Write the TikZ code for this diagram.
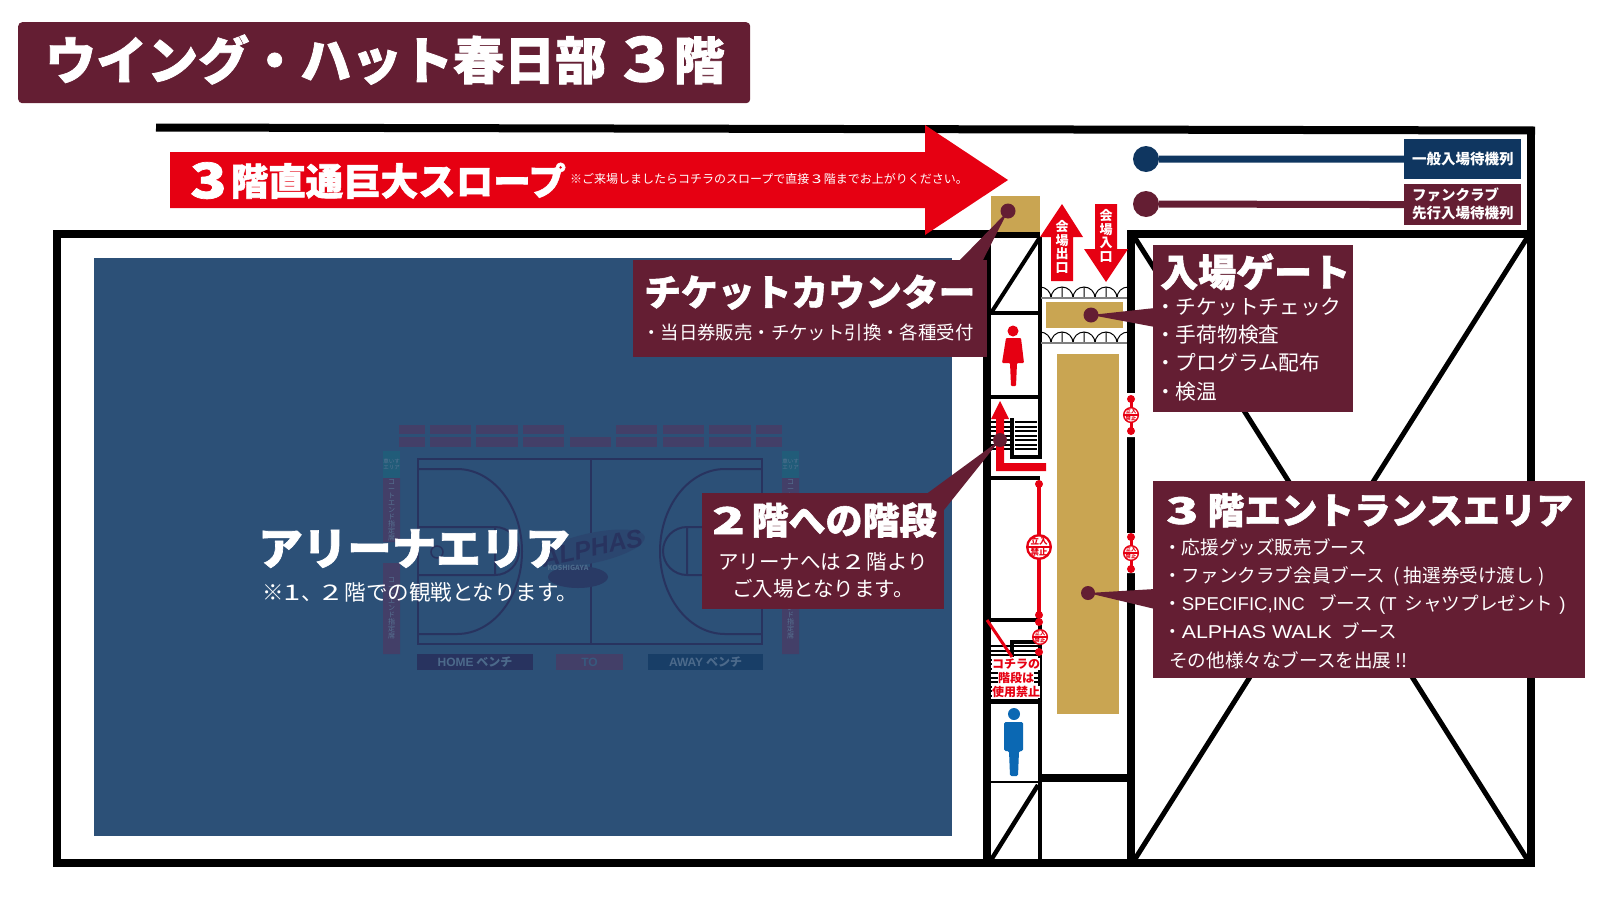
\documentclass[tikz,border=0pt]{standalone}
\usepackage{fontspec}
\setmainfont{Noto Sans CJK JP}
\newfontfamily\heavyjp[BoldFeatures={FakeBold=1.5}]{Noto Sans CJK JP}
\newfontfamily\latinfont{Liberation Sans}
\newcommand{\wdig}[1]{\scalebox{1.45}[1]{#1}}
\newcommand{\lat}[1]{{\latinfont #1}}
\definecolor{maroon}{HTML}{641E33}
\definecolor{navyq}{HTML}{0F3660}
\definecolor{rampred}{HTML}{E60012}
\definecolor{gold}{HTML}{C9A552}
\definecolor{arena}{HTML}{2C5077}
\definecolor{courtline}{HTML}{28335F}
\definecolor{seat}{HTML}{433F68}
\definecolor{manblue}{HTML}{0B68B3}
\tikzset{
sized/.style={font=\fontsize{#1}{#1}\selectfont,text height=.88*#1pt,text depth=.12*#1pt,inner sep=0pt,text=white},
heavy/.style={font=\heavyjp\bfseries\fontsize{#1}{#1}\selectfont,text height=.88*#1pt,text depth=.12*#1pt,inner sep=0pt,text=white},
boldsized/.style={font=\bfseries\fontsize{#1}{#1}\selectfont,text height=.88*#1pt,text depth=.12*#1pt,inner sep=0pt,text=white},
infobox/.style={fill=maroon,inner sep=0pt,anchor=north west},
dot/.style={circle,fill=maroon,inner sep=0pt,minimum size=#1},
wall/.style={line width=8pt},
inner/.style={line width=4pt},
tatetext/.style={align=center,inner sep=0pt,text=white,font=\bfseries\fontsize{13}{13.5}\selectfont},
sidetext/.style={align=center,inner sep=0pt,text=arena!80!white,font=\fontsize{#1}{#1}\selectfont},
warn/.style={font=\bfseries\fontsize{12}{12}\selectfont,text=rampred,fill=white,inner sep=.4pt},
nogo/.pic={
\fill[rampred] (0,0) circle (13);
\fill[white] (0,0) circle (10.5);
\fill[rampred] (-11,-1.3) rectangle (11,1.3);
\node[text=rampred,inner sep=0pt,transform shape,font=\bfseries\fontsize{8.5}{8.5}\selectfont] (-top) at (0,-5.5) {立入};
\node[text=rampred,inner sep=0pt,transform shape,font=\bfseries\fontsize{8.5}{8.5}\selectfont] (-bot) at (0,5.5) {禁止};
},
}
\begin{document}
\begin{tikzpicture}[x=1pt,y=-1pt]
\useasboundingbox (0,0) rectangle (1600,900);

\node[infobox,rounded corners=4pt,minimum width=732pt,minimum height=81pt] (titlebox) at (18,22) {};
\node[heavy=51,anchor=west] (title) at (45,60) {ウイング・ハット春日部\hspace{.32em}\raisebox{-2pt}{\scalebox{1.45}[1.2]{3}}\hspace{.12em}階};

\draw[wall] (156,127.5) -- (1535,130.5);
\draw[wall] (1040,234) -- (53,234) -- (57,234) -- (57,863) -- (1531,863) -- (1531,130);
\draw[wall] (1127,234) -- (1531,234);
\draw[wall] (1131,234) -- (1131,393) (1131,437) -- (1131,533) (1131,573) -- (1131,863);
\draw[wall] (987,234) -- (987,863);
\draw[wall] (1040,778) -- (1131,778);
\draw[line width=5pt] (1135,238) -- (1527,859) (1527,238) -- (1135,859);

\draw[inner] (1040,237) -- (1040,457) -- (1012,457) -- (1012,418);
\draw[inner] (991,313) -- (1040,313) (991,396.5) -- (1040,396.5) (991,478) -- (1040,478);
\draw[inner] (991,313) -- (1040,237);
\foreach \y in {422,426.5,...,453} {
\draw[line width=2pt] (991,\y) -- (1010,\y) (1015,\y) -- (1037,\y);
}
\draw[inner] (991,620) -- (1040,620) (991,702) -- (1040,702);
\draw[inner] (1012,657) -- (1012,642) -- (1040,642);
\foreach \y in {646,650.5,...,700} {
\draw[line width=2pt] (991,\y) -- (1038,\y);
}
\draw[inner] (1040,620) -- (1040,860);
\draw[line width=2pt] (991,782) -- (1040,782);
\draw[line width=4.5pt] (1038,785) -- (991,860);

\fill[arena] (94,258) rectangle (952,836);
\foreach \a/\b in {399/425,430/471,476/518,523/564,616/657,663/704,709/751,756/782} {
\fill[seat] (\a,425) rectangle (\b,434);
\fill[seat] (\a,437) rectangle (\b,447);
}
\fill[seat] (570,437) rectangle (611,447);
\foreach \a/\b in {383/400,782/799} {
\fill[teal!25!arena] (\a,451) rectangle (\b,478);
\fill[seat] (\a,478) rectangle (\b,542) (\a,563) rectangle (\b,654);
}
\node[sidetext=5.5] (wheelL) at (391.5,464.5) {車いす\\エリア};
\node[sidetext=5.5] (wheelR) at (790.5,464.5) {車いす\\エリア};
\node[sidetext=7] (endLa) at (391.5,510) {コ\\ー\\ト\\エ\\ン\\ド\\指\\定\\席};
\node[sidetext=7] (endLb) at (391.5,608) {コ\\ー\\ト\\エ\\ン\\ド\\指\\定\\席};
\node[sidetext=7] (endRa) at (790.5,510) {コ\\ー\\ト\\エ\\ン\\ド\\指\\定\\席};
\node[sidetext=7] (endRb) at (790.5,608) {コ\\ー\\ト\\エ\\ン\\ド\\指\\定\\席};

\draw[courtline,line width=2pt] (418,459) rectangle (762,644) (591,459) -- (591,644);
\draw[courtline,line width=2pt] (418,469) -- (457,469) arc[start angle=90,end angle=-90,x radius=65pt,y radius=82.5pt] -- (418,634);
\draw[courtline,line width=2pt] (762,469) -- (725,469) arc[start angle=90,end angle=270,x radius=65pt,y radius=82.5pt] -- (762,634);
\draw[courtline,line width=2pt] (418,527) -- (495,527) arc[start angle=90,end angle=-90,radius=24pt] -- (418,575) (495,527) -- (495,575);
\draw[courtline,line width=2pt] (762,527) -- (687,527) arc[start angle=90,end angle=270,radius=24pt] -- (762,575) (687,527) -- (687,575);
\draw[courtline,line width=1.5pt] (437,552) circle (6);

\fill[courtline!35!arena,rotate around={12:(592,548)}] (592,548) ellipse (54 and 15);
\fill[courtline!75!arena] (578,577) ellipse (30 and 11);
\node[font=\bfseries\fontsize{7}{7}\selectfont,text=arena!85!white,inner sep=0pt] (kosh) at (568,568) {KOSHIGAYA};
\node[font=\latinfont\bfseries\itshape\fontsize{25}{25}\selectfont,text=courtline,rotate=12,inner sep=0pt] (logo) at (592,548) {ALPHAS};

\fill[courtline] (417,654) rectangle (533,670);
\fill[seat] (556,654) rectangle (623,670);
\fill[navyq!70!arena] (648,654) rectangle (763,670);
\node[boldsized=12,text=arena!85!white] (home) at (475,662) {\lat{HOME} ベンチ};
\node[boldsized=12,text=arena!95!white] (tolabel) at (589.5,662) {\lat{TO}};
\node[boldsized=12,text=arena!85!white] (away) at (705.5,662) {\lat{AWAY} ベンチ};

\node[heavy=44.5,anchor=center] (arenatitle) at (414,548) {アリーナエリア};
\node[sized=21.5,anchor=west] (arenanote) at (262,592) {※\wdig{1}、\wdig{2}\hspace{.22em}階での観戦となります。};

\fill[gold] (991,196) rectangle (1040,232);
\fill[gold] (1046,302) rectangle (1123,328);
\fill[gold] (1057,354) rectangle (1119,714);

\begin{scope}
\clip (1041,280) rectangle (1127,350);
\foreach \x in {1040,1062,1084,1106,1128} {
\draw[line width=1pt] (\x-11,298) arc[start angle=180,end angle=0,radius=11pt] (\x,287) -- (\x,298);
\draw[line width=1pt] (\x-11,343) arc[start angle=180,end angle=0,radius=11pt] (\x,332) -- (\x,343);
}
\end{scope}
\draw[gray,line width=2pt] (1041,298) -- (1127,298) (1041,343) -- (1127,343);

\fill[rampred] (170,152) -- (925,152) -- (925,125) -- (1008,180) -- (925,235) -- (925,208) -- (170,208) -- cycle;
\node[heavy=37.5,anchor=west] (ramptitle) at (190,181) {\raisebox{-3pt}{\scalebox{1.6}[1.3]{3}}\hspace{4pt}階直通巨大スロープ};
\node[sized=12,anchor=west] (rampnote) at (570,179) {※ご来場しましたらコチラのスロープで直接\hspace{.2em}\wdig{3}\hspace{.2em}階までお上がりください。};

\fill[rampred] (1062,204) -- (1083,237) -- (1073,237) -- (1073,281) -- (1051,281) -- (1051,237) -- (1040,237) -- cycle;
\fill[rampred] (1095,204) -- (1117,204) -- (1117,249) -- (1128,249) -- (1106,282) -- (1084,249) -- (1095,249) -- cycle;
\node[tatetext] (exitlabel) at (1062,247) {会\\場\\出\\口};
\node[tatetext] (enterlabel) at (1106,236) {会\\場\\入\\口};

\fill[rampred] (1000,401) -- (1009,419) -- (1004,419) -- (1004,463) -- (1046,463) -- (1046,471) -- (996,471) -- (996,419) -- (991,419) -- cycle;

\draw[rampred,line width=4pt] (1039,484) -- (1039,615);
\foreach \y in {484,615,622,652} {
\fill[rampred] (1039,\y) circle (4);
}
\pic (signa) at (1039,547) {nogo};
\pic[scale=.62] (signb) at (1040,637) {nogo};
\fill[white] (1126,393) rectangle (1136,437) (1126,533) rectangle (1136,573);
\draw[rampred,line width=3pt] (1131,399) -- (1131,431) (1131,537) -- (1131,569);
\foreach \y in {399,431,537,569} {
\fill[rampred] (1131,\y) circle (4);
}
\pic[scale=.62] (signc) at (1131,415) {nogo};
\pic[scale=.62] (signd) at (1131,553) {nogo};
\draw[rampred,line width=3pt] (987,620) -- (1012,657);
\node[warn] (warna) at (1016,664) {コチラの};
\node[warn] (warnb) at (1016,678) {階段は};
\node[warn] (warnc) at (1016,692) {使用禁止};

\fill[rampred] (1013,331) circle (5.5);
\fill[rampred,rounded corners=1pt] (1006,338) -- (1021,338) -- (1024,363) -- (1017,363) -- (1016,386) -- (1011,386) -- (1010,363) -- (1002,363) -- cycle;
\fill[manblue] (1014,714) circle (6);
\fill[manblue,rounded corners=1.5pt] (1004,722) -- (1023,722) -- (1023,751) -- (1019,751) -- (1018,776) -- (1010,776) -- (1009,751) -- (1004,751) -- cycle;

\node[dot=26pt,fill=navyq] (bluedot) at (1146,159) {};
\node[dot=26pt] (reddot) at (1146,204) {};
\node[fill=navyq,inner sep=0pt,minimum width=117pt,minimum height=40pt,anchor=north west] (bluelabel) at (1404,139) {};
\node[fill=maroon,inner sep=0pt,minimum width=117pt,minimum height=41pt,anchor=north west] (redlabel) at (1404,184) {};
\draw[navyq,line width=7pt] (bluedot) -- (bluelabel);
\draw[maroon,line width=7pt] (reddot) -- (redlabel);
\node[boldsized=14.5,anchor=west] (bluetext) at (1412,159) {一般入場待機列};
\node[boldsized=14.5,anchor=west] (redtexta) at (1412,195) {ファンクラブ};
\node[boldsized=14.5,anchor=west] (redtextb) at (1412,213) {先行入場待機列};

\node[dot=15pt] (countdot) at (1008,211) {};
\node[dot=15pt] (gatedot) at (1091,315) {};
\node[dot=14pt] (stairdot) at (1000,440) {};
\node[dot=14pt] (areadot) at (1088,593) {};
\fill[maroon] (countdot.center) -- (982,262) -- (958,262) -- cycle;
\fill[maroon] (gatedot.center) -- (1155,308) -- (1155,327) -- cycle;
\fill[maroon] (stairdot.center) -- (944,510) -- (925,495) -- cycle;
\fill[maroon] (areadot.center) -- (1155,589) -- (1155,609) -- cycle;

\node[infobox,minimum width=354pt,minimum height=97pt] (countbox) at (633,260) {};
\node[heavy=36.8,anchor=west] (counttitle) at (644,292) {チケットカウンター};
\node[sized=18.4,anchor=west] (countnote) at (642,333) {・当日券販売・チケット引換・各種受付};

\node[infobox,minimum width=242pt,minimum height=116pt] (stairbox) at (702,493) {};
\node[heavy=37,anchor=west] (stairtitle) at (712,520) {\wdig{2}\hspace{.18em}階への階段};
\node[sized=20.5,anchor=center] (stairnotea) at (823,562) {アリーナへは\hspace{.22em}\wdig{2}\hspace{.22em}階より};
\node[sized=20.5,anchor=center] (stairnoteb) at (823,589) {ご入場となります。};

\node[infobox,minimum width=200pt,minimum height=167pt] (gatebox) at (1153,245) {};
\node[heavy=38,anchor=west] (gatetitle) at (1160,272) {入場ゲート};
\foreach \y/\t in {307/チケットチェック,335/手荷物検査,363/プログラム配布,392/検温} {
\node[sized=20.7,anchor=west] (gate\y) at (1155,\y) {・\t};
}

\node[infobox,minimum width=432pt,minimum height=197pt] (areabox) at (1153,481) {};
\node[heavy=36.6,anchor=west] (areatitle) at (1166,510) {\wdig{3}\hspace{.25em}階エントランスエリア};
\foreach \y/\t in {547/応援グッズ販売ブース,575/ファンクラブ会員ブース\hspace{.2em} ( 抽選券受け渡し ),603/{\lat{SPECIFIC,INC}\hspace{.5em} ブース\hspace{.1em} \lat{(T}\hspace{.2em} シャツプレゼント\hspace{.1em} \lat{)}},631/\scalebox{1.15}[1]{\lat{ALPHAS WALK}}\hspace{.3em} ブース} {
\node[sized=18.6,anchor=west] (area\y) at (1163,\y) {・\t};
}
\node[sized=18.6,anchor=west] (area660) at (1169,660) {その他様々なブースを出展 !!};

\end{tikzpicture}
\end{document}
